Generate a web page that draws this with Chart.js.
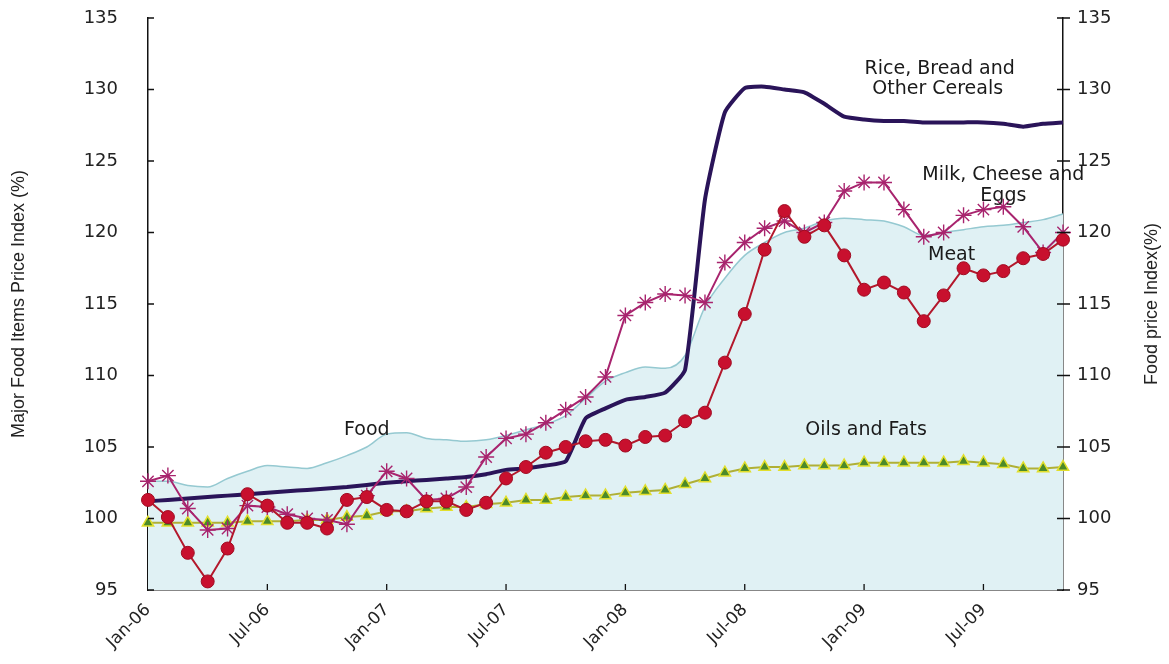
<!DOCTYPE html>
<html>
<head>
<meta charset="utf-8">
<script src="https://cdn.jsdelivr.net/npm/chart.js@4"></script>
<style>
  html, body { margin: 0; padding: 0; background: #fff; }
  #wrap { width: 1169px; height: 664px; }
</style>
</head>
<body>
<div id="wrap"><canvas id="myChart" width="1169" height="664"></canvas></div>
<script>
const months = [
    'Jan-06', 'Feb-06', 'Mar-06', 'Apr-06', 'May-06', 'Jun-06', 'Jul-06', 'Aug-06', 'Sep-06', 'Oct-06', 'Nov-06', 'Dec-06',
    'Jan-07', 'Feb-07', 'Mar-07', 'Apr-07', 'May-07', 'Jun-07', 'Jul-07', 'Aug-07', 'Sep-07', 'Oct-07', 'Nov-07', 'Dec-07',
    'Jan-08', 'Feb-08', 'Mar-08', 'Apr-08', 'May-08', 'Jun-08', 'Jul-08', 'Aug-08', 'Sep-08', 'Oct-08', 'Nov-08', 'Dec-08',
    'Jan-09', 'Feb-09', 'Mar-09', 'Apr-09', 'May-09', 'Jun-09', 'Jul-09', 'Aug-09', 'Sep-09', 'Oct-09', 'Nov-09'
];

// overall food price index (right axis)
const food = [
    102.6, 102.6, 102.3, 102.2, 102.8, 103.3, 103.7, 103.6, 103.5, 103.9, 104.4, 105.0,
    105.9, 106.0, 105.6, 105.5, 105.4, 105.5, 105.8, 106.2, 106.6, 107.2, 108.4, 109.6,
    110.2, 110.6, 110.5, 111.4, 114.8, 116.8, 118.4, 119.3, 120.0, 120.3, 120.8, 121.0,
    120.9, 120.8, 120.4, 119.8, 120.0, 120.2, 120.4, 120.5, 120.7, 120.9, 121.3
];

const cereals = [
    101.2, 101.3, 101.4, 101.5, 101.6, 101.7, 101.8, 101.9, 102.0, 102.1, 102.2, 102.35,
    102.5, 102.6, 102.7, 102.8, 102.9, 103.1, 103.4, 103.5, 103.7, 104.0, 107.0, 107.7,
    108.3, 108.5, 108.8, 110.4, 122.3, 128.4, 130.1, 130.2, 130.0, 129.8, 129.0, 128.1,
    127.9, 127.8, 127.8, 127.7, 127.7, 127.7, 127.7, 127.6, 127.4, 127.6, 127.7
];

const dairy = [
    102.6, 103.0, 100.7, 99.2, 99.3, 100.9, 100.8, 100.3, 100.0, 99.9, 99.6, 101.6,
    103.3, 102.8, 101.3, 101.4, 102.2, 104.3, 105.6, 105.9, 106.7, 107.6, 108.5, 109.9,
    114.2, 115.1, 115.7, 115.6, 115.1, 117.9, 119.3, 120.3, 120.8, 120.0, 120.7, 122.9,
    123.5, 123.5, 121.6, 119.7, 120.0, 121.2, 121.6, 121.8, 120.4, 118.6, 120.0
];

const meat = [
    101.3, 100.1, 97.6, 95.6, 97.9, 101.7, 100.9, 99.7, 99.7, 99.3, 101.3, 101.5,
    100.6, 100.5, 101.2, 101.2, 100.6, 101.1, 102.8, 103.6, 104.6, 105.0, 105.4, 105.5,
    105.1, 105.7, 105.8, 106.8, 107.4, 110.9, 114.3, 118.8, 121.5, 119.7, 120.5, 118.4,
    116.0, 116.5, 115.8, 113.8, 115.6, 117.5, 117.0, 117.3, 118.2, 118.5, 119.5
];

const oils = [
    99.7, 99.7, 99.7, 99.7, 99.7, 99.8, 99.8, 99.8, 99.9, 99.9, 100.1, 100.2,
    100.5, 100.5, 100.7, 100.8, 100.8, 101.0, 101.1, 101.3, 101.3, 101.5, 101.6, 101.6,
    101.8, 101.9, 102.0, 102.4, 102.8, 103.2, 103.5, 103.6, 103.6, 103.7, 103.7, 103.7,
    103.9, 103.9, 103.9, 103.9, 103.9, 104.0, 103.9, 103.8, 103.5, 103.5, 103.6
];

// series names written next to the lines: [text, month index, value]
const seriesNotes = [
    ['Food', 11.0, 106.2],
    ['Oils and Fats', 36.1, 106.2],
    ['Meat', 40.4, 118.4],
    ['Milk, Cheese and', 43.0, 124.0],
    ['Eggs', 43.0, 122.55],
    ['Rice, Bread and', 39.8, 131.4],
    ['Other Cereals', 39.7, 130.0]
];

const textFont = '"DejaVu Sans", sans-serif';

// inward tick marks, right axis title and the series names
const decor = {
    id: 'decor',
    afterDraw(chart) {
        const ctx = chart.ctx;
        const area = chart.chartArea;
        const x = chart.scales.x, y = chart.scales.y, y1 = chart.scales.y1;

        ctx.save();
        ctx.strokeStyle = '#111';
        ctx.lineWidth = 1.3;
        ctx.beginPath();
        y.ticks.forEach(t => {
            const py = y.getPixelForValue(t.value);
            ctx.moveTo(area.left, py);
            ctx.lineTo(area.left + 6, py);
        });
        y1.ticks.forEach(t => {
            const py = y1.getPixelForValue(t.value);
            ctx.moveTo(area.right - 6, py);
            ctx.lineTo(area.right + 7, py);
        });
        months.forEach((m, i) => {
            if (i % 6 === 0 && i > 0) {
                const px = x.getPixelForValue(i);
                ctx.moveTo(px, area.bottom);
                ctx.lineTo(px, area.bottom - 6);
            }
        });
        ctx.stroke();

        // right axis title reads bottom to top like the left one
        ctx.fillStyle = '#222';
        ctx.font = '18px "Liberation Sans", Arial, sans-serif';
        ctx.textAlign = 'center';
        ctx.textBaseline = 'middle';
        ctx.translate(1152, (area.top + area.bottom) / 2);
        ctx.rotate(-Math.PI / 2);
        ctx.fillText('Food price Index(%)', 0, 0);
        ctx.restore();

        ctx.save();
        ctx.fillStyle = '#1a1a1a';
        ctx.font = '19px ' + textFont;
        ctx.textAlign = 'center';
        ctx.textBaseline = 'middle';
        seriesNotes.forEach(n => {
            ctx.fillText(n[0], x.getPixelForValue(n[1]), y.getPixelForValue(n[2]));
        });
        ctx.restore();
    }
};

// hidden tick length only pushes the labels away from the axis line
const hiddenTicks = len => ({
    display: true,
    drawOnChartArea: false,
    drawTicks: true,
    tickLength: len,
    tickColor: 'rgba(0,0,0,0)'
});

const ctx = document.getElementById('myChart');
const myChart = new Chart(ctx, {
    type: 'line',
    data: {
        labels: months,
        datasets: [{
            label: 'Meat',
            data: meat,
            borderColor: '#b3182c',
            borderWidth: 2,
            pointStyle: 'circle',
            pointRadius: 6.5,
            pointBackgroundColor: '#c8102e',
            pointBorderColor: '#a00c22',
            pointBorderWidth: 1,
            yAxisID: 'y'
        }, {
            label: 'Milk, Cheese and Eggs',
            data: dairy,
            borderColor: '#a8246e',
            borderWidth: 2,
            pointStyle: 'star',
            pointRadius: 8,
            pointBorderColor: '#a8246e',
            pointBorderWidth: 1.4,
            yAxisID: 'y'
        }, {
            label: 'Oils and Fats',
            data: oils,
            borderColor: '#b0b036',
            borderWidth: 2,
            pointStyle: 'triangle',
            pointRadius: 6.5,
            pointBackgroundColor: '#4c8a2a',
            pointBorderColor: '#e2df2c',
            pointBorderWidth: 1.5,
            yAxisID: 'y'
        }, {
            label: 'Rice, Bread and Other Cereals',
            data: cereals,
            borderColor: '#2a1459',
            borderWidth: 4,
            pointRadius: 0,
            tension: 0.15,
            yAxisID: 'y'
        }, {
            label: 'Food',
            data: food,
            borderColor: '#95c9d1',
            borderWidth: 1.5,
            backgroundColor: '#e0f1f4',
            fill: 'start',
            pointRadius: 0,
            cubicInterpolationMode: 'monotone',
            yAxisID: 'y1'
        }]
    },
    options: {
        responsive: false,
        animation: false,
        layout: { padding: { top: 18, right: 0, bottom: 0, left: 0 } },
        plugins: {
            legend: { display: false },
            tooltip: { enabled: false }
        },
        scales: {
            x: {
                offset: false,
                grid: { display: true, drawOnChartArea: false, drawTicks: false },
                border: { display: true, color: '#111', width: 1.5 },
                ticks: {
                    autoSkip: false,
                    maxRotation: 45,
                    minRotation: 45,
                    padding: 10,
                    color: '#222',
                    font: { family: textFont, size: 17 },
                    callback: (v, i) => i % 6 === 0 ? months[i] : ''
                },
                afterFit: scale => { scale.height = 74; }
            },
            y: {
                position: 'left',
                min: 95,
                max: 135,
                grid: hiddenTicks(26),
                border: { display: true, color: '#111', width: 1.5 },
                ticks: {
                    stepSize: 5,
                    padding: 4,
                    color: '#222',
                    font: { family: textFont, size: 18 }
                },
                title: {
                    display: true,
                    text: 'Major Food Items Price Index (%)',
                    color: '#222',
                    padding: { top: 8, bottom: 0 },
                    font: { family: '"Liberation Sans", Arial, sans-serif', size: 18 }
                },
                afterFit: scale => { scale.width = 148; }
            },
            y1: {
                position: 'right',
                min: 95,
                max: 135,
                grid: hiddenTicks(10),
                border: { display: true, color: '#111', width: 1.5 },
                ticks: {
                    stepSize: 5,
                    padding: 4,
                    color: '#222',
                    font: { family: textFont, size: 18 }
                },
                afterFit: scale => { scale.width = 106; }
            }
        }
    },
    plugins: [decor]
});
</script>
</body>
</html>
